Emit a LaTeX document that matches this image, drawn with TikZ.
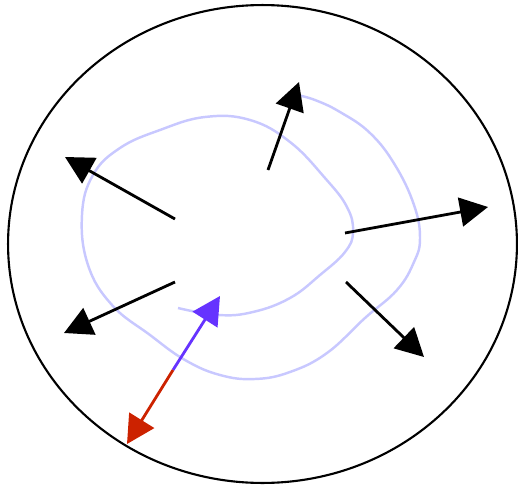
\documentclass[tikz,border=0pt]{standalone}
\usepackage{tikz}
\usetikzlibrary{arrows.meta}
\definecolor{spiralblue}{RGB}{200,200,255}
\definecolor{outblue}{RGB}{102,51,255}
\definecolor{outred}{RGB}{204,34,0}
\begin{document}
\begin{tikzpicture}[x=0.02cm,y=-0.02cm]
  \tikzstyle{arr}=[-{Triangle[length=0.56cm,width=0.58cm]},line width=1.6pt]
  \useasboundingbox (0,0) rectangle (518,487);
  \draw[line width=1.2pt] (262.5,244) ellipse (5.09cm and 4.78cm);

  % spiral
  \draw[spiralblue,line width=1.4pt] plot[smooth,tension=0.7] coordinates {
    (178,308) (218,315) (253,312) (290,298) (320,275) (345,252) (353,232)
    (347,207) (325,178) (290,142) (250,120) (205,117) (160,130) (120,148)
    (93,175) (82,215) (88,265) (112,305) (150,335) (185,360) (220,375)
    (255,379) (290,372) (327,353) (365,318) (397,290) (414,262) (420,238)
    (414,205) (395,165) (370,133) (340,112) (315,100) (297,95)};

  \coordinate (s1) at (268,170); \coordinate (t1) at (299,82);
  \coordinate (s2) at (175,219); \coordinate (t2) at (65,157);
  \coordinate (s3) at (175,282); \coordinate (t3) at (64,333);
  \coordinate (s4) at (345,233); \coordinate (t4) at (488,207);
  \coordinate (s5) at (346,282); \coordinate (t5) at (424,357);
  \coordinate (m) at (173,370);
  \coordinate (tb) at (220,296);
  \coordinate (tr) at (127,444);

  \draw[arr] (s1) -- (t1);
  \draw[arr] (s2) -- (t2);
  \draw[arr] (s3) -- (t3);
  \draw[arr] (s4) -- (t4);
  \draw[arr] (s5) -- (t5);
  \draw[arr,outblue] (m) -- (tb);
  \draw[arr,outred] (m) -- (tr);
\end{tikzpicture}
\end{document}
